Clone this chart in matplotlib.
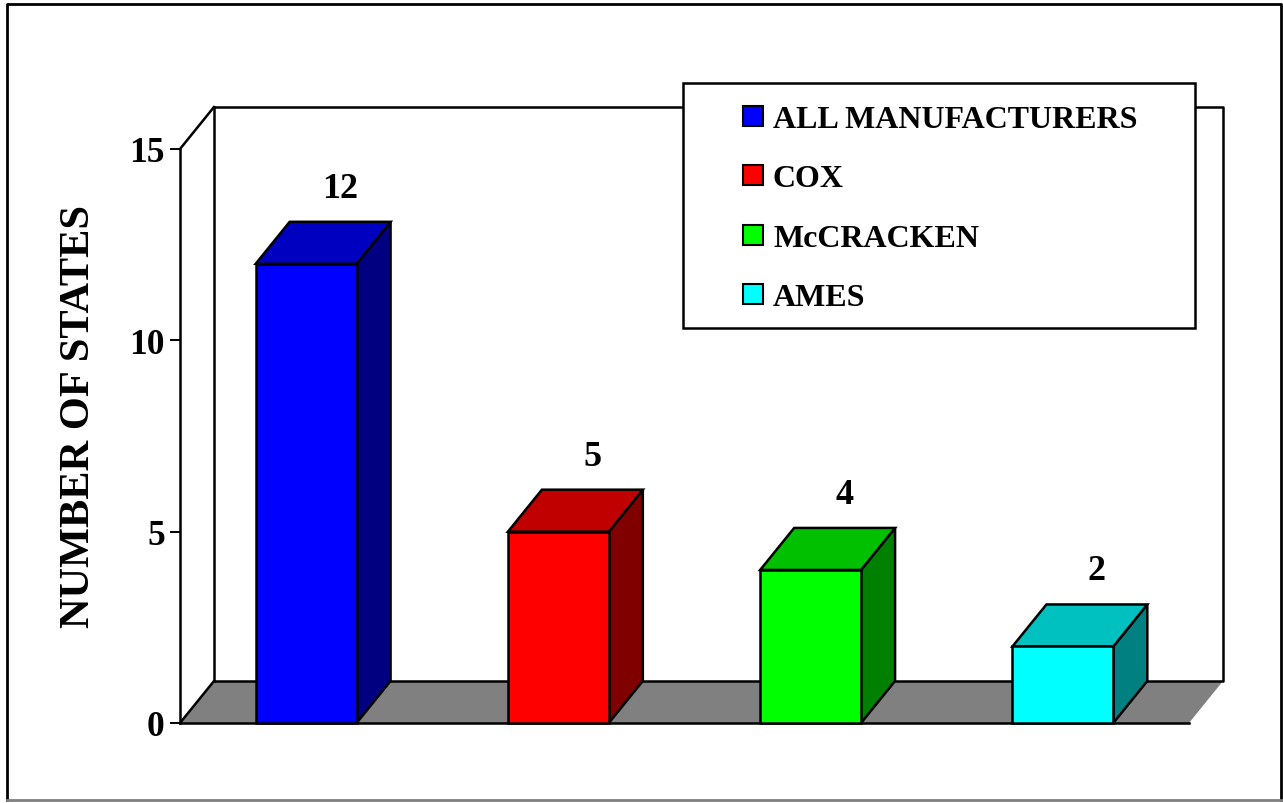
import matplotlib
matplotlib.use("Agg")
from matplotlib import pyplot as plt
from matplotlib.patches import Polygon, Rectangle
from matplotlib.lines import Line2D

categories = ["ALL MANUFACTURERS", "COX", "McCRACKEN", "AMES"]
values = [12, 5, 4, 2]
front_colors = ["#0000FF", "#FF0000", "#00FF00", "#00FFFF"]
top_colors = ["#0000C0", "#C00000", "#00C000", "#00C0C0"]
side_colors = ["#000080", "#800000", "#008000", "#008080"]
y_ticks = [0, 5, 10, 15]

W, H = 1283, 804
FONT = "Liberation Serif"
LW = 1.8


def fx(x):
    return x / W


def fy(y):
    return 1 - y / H


fig = plt.figure(figsize=(W / 100, H / 100), dpi=100)

# front plane of the chart
left, right, top, bottom = 180, 1189, 150, 724
ax = fig.add_axes([fx(left), fy(bottom), (right - left) / W, (bottom - top) / H])
ax.set_xlim(-0.5, len(values) - 0.5)
ax.set_ylim(0, 15)
ax.patch.set_visible(False)

# depth offset in data units
dx = 34 * (len(values)) / (right - left)
dy = 42 * 15 / (bottom - top)
bw = 0.4
x0, x1 = -0.5, len(values) - 0.5
ymax = 15

# floor
ax.add_patch(Polygon([(x0, 0), (x1, 0), (x1 + dx, dy), (x0 + dx, dy)],
                     closed=True, facecolor="#808080", edgecolor="none",
                     zorder=1, clip_on=False))
# back wall outline
ax.add_line(Line2D([x0 + dx, x0 + dx, x1 + dx, x1 + dx, x0 + dx],
                   [dy, ymax + dy, ymax + dy, dy, dy],
                   color="black", lw=LW, zorder=2, clip_on=False))
# side edges
ax.add_line(Line2D([x0, x0 + dx], [0, dy], color="black", lw=LW, zorder=2, clip_on=False))
ax.add_line(Line2D([x0, x0 + dx], [ymax, ymax + dy], color="black", lw=LW, zorder=2, clip_on=False))
ax.add_line(Line2D([x0, x1], [0, 0], color="black", lw=LW, zorder=2, clip_on=False))

# bars
for i, v in enumerate(values):
    l, r = i - bw / 2, i + bw / 2
    ax.add_patch(Polygon([(r, 0), (r + dx, dy), (r + dx, v + dy), (r, v)],
                         closed=True, facecolor=side_colors[i], edgecolor="black",
                         lw=LW, zorder=3, clip_on=False, joinstyle="miter"))
    ax.add_patch(Polygon([(l, v), (r, v), (r + dx, v + dy), (l + dx, v + dy)],
                         closed=True, facecolor=top_colors[i], edgecolor="black",
                         lw=LW, zorder=3, clip_on=False, joinstyle="miter"))
    ax.add_patch(Rectangle((l, 0), bw, v, facecolor=front_colors[i], edgecolor="black",
                           lw=LW, zorder=4, clip_on=False, joinstyle="miter"))
    ax.annotate(str(v), xy=(i + dx, v + dy), xytext=(0, 18), textcoords="offset points",
                ha="center", va="baseline", fontsize=26, fontweight="bold",
                family=FONT, annotation_clip=False)

# axis
for s in ["top", "right", "bottom"]:
    ax.spines[s].set_visible(False)
ax.spines["left"].set_linewidth(LW)
ax.spines["left"].set_zorder(5)
ax.set_xticks([])
ax.set_yticks(y_ticks)
ax.tick_params(axis="y", direction="out", length=7, width=1.4, pad=4)
for lab in ax.get_yticklabels():
    lab.set_fontsize(25.5)
    lab.set_fontweight("bold")
    lab.set_family(FONT)

fig.text(fx(79), fy(416), "NUMBER OF STATES", rotation=90, ha="center", va="center",
         fontsize=30.5, fontweight="bold", family=FONT)

# legend box
lx0, ly0, lx1, ly1 = 683, 84, 1195, 329
fig.patches.append(Rectangle((fx(lx0), fy(ly1)), (lx1 - lx0) / W, (ly1 - ly0) / H,
                             transform=fig.transFigure, facecolor="white",
                             edgecolor="black", lw=LW, zorder=10))
rows = [117, 176, 236, 295]
for i, name in enumerate(categories):
    yc = rows[i]
    fig.patches.append(Rectangle((fx(743), fy(yc + 10)), 20 / W, 20 / H,
                                 transform=fig.transFigure, facecolor=front_colors[i],
                                 edgecolor="black", lw=1.5, zorder=11))
    fig.text(fx(773), fy(yc + 11), name, ha="left", va="baseline", fontsize=23,
             fontweight="bold", family=FONT, zorder=12)

# outer frame
fig.add_artist(Line2D([fx(7), fx(7), fx(1281), fx(1281)], [fy(801), fy(5), fy(5), fy(801)],
                      transform=fig.transFigure, color="black", lw=2))
fig.add_artist(Line2D([fx(7), fx(1281)], [fy(801), fy(801)],
                      transform=fig.transFigure, color="#808080", lw=2))

fig.savefig("out.png", dpi=100)
